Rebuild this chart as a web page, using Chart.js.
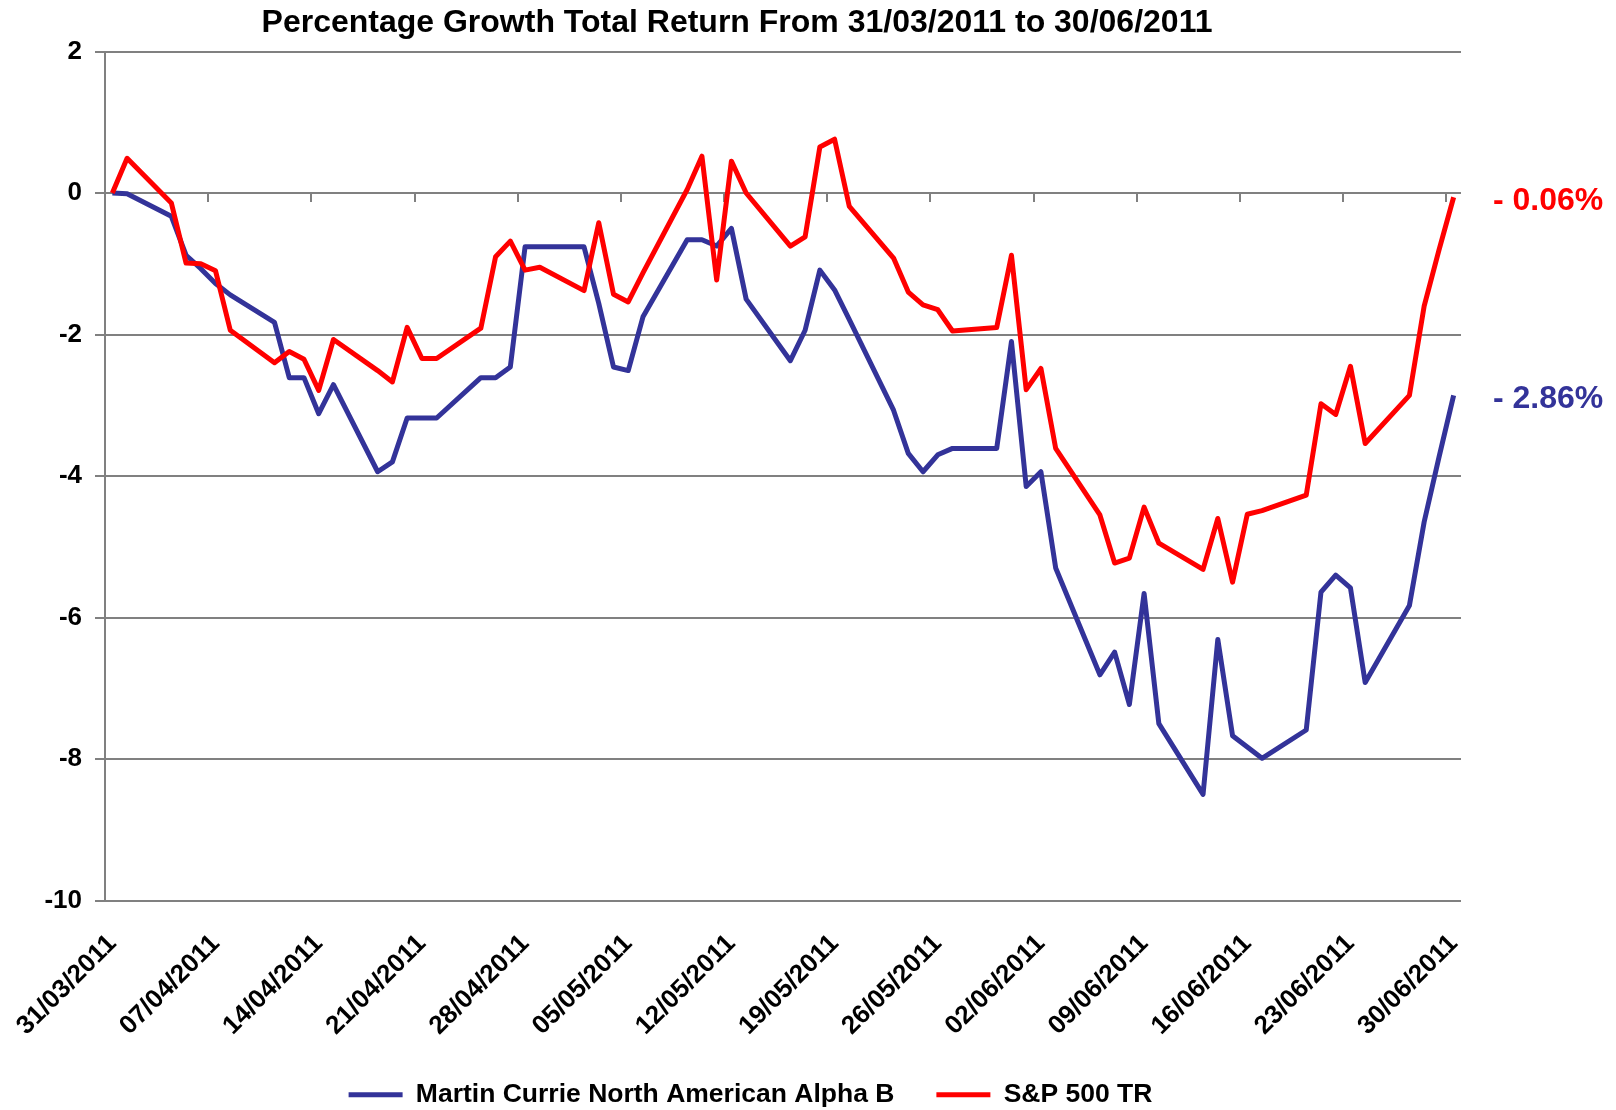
<!DOCTYPE html>
<html>
<head>
<meta charset="utf-8">
<title>Percentage Growth Total Return</title>
<script src="https://cdn.jsdelivr.net/npm/chart.js@4.4.1/dist/chart.umd.min.js"></script>
<style>
  html, body { margin: 0; padding: 0; background: #fff; }
</style>
</head>
<body>
<canvas id="growth" width="1616" height="1110"></canvas>
<script>
// trading days and % growth
const tradingDays = [
  '31/03/2011', '01/04/2011',
  '04/04/2011', '05/04/2011', '06/04/2011', '07/04/2011', '08/04/2011',
  '11/04/2011', '12/04/2011', '13/04/2011', '14/04/2011', '15/04/2011',
  '18/04/2011', '19/04/2011', '20/04/2011', '21/04/2011', '22/04/2011',
  '25/04/2011', '26/04/2011', '27/04/2011', '28/04/2011', '29/04/2011',
  '02/05/2011', '03/05/2011', '04/05/2011', '05/05/2011', '06/05/2011',
  '09/05/2011', '10/05/2011', '11/05/2011', '12/05/2011', '13/05/2011',
  '16/05/2011', '17/05/2011', '18/05/2011', '19/05/2011', '20/05/2011',
  '23/05/2011', '24/05/2011', '25/05/2011', '26/05/2011', '27/05/2011',
  '30/05/2011', '31/05/2011', '01/06/2011', '02/06/2011', '03/06/2011',
  '06/06/2011', '07/06/2011', '08/06/2011', '09/06/2011', '10/06/2011',
  '13/06/2011', '14/06/2011', '15/06/2011', '16/06/2011', '17/06/2011',
  '20/06/2011', '21/06/2011', '22/06/2011', '23/06/2011', '24/06/2011',
  '27/06/2011', '28/06/2011', '29/06/2011', '30/06/2011'
];

const martinCurrie = [
  0.00, -0.01,
  -0.33, -0.88, -1.07, -1.28, -1.44,
  -1.83, -2.61, -2.61, -3.12, -2.71,
  -3.94, -3.80, -3.18, -3.18, -3.18,
  -2.61, -2.61, -2.46, -0.76, -0.76,
  -0.76, -1.56, -2.46, -2.51, -1.75,
  -0.66, -0.66, -0.75, -0.50, -1.50,
  -2.37, -1.94, -1.09, -1.37, -1.79,
  -3.07, -3.68, -3.94, -3.70, -3.61,
  -3.61, -2.10, -4.15, -3.94, -5.30,
  -6.81, -6.49, -7.23, -5.66, -7.50,
  -8.50, -6.31, -7.67, -7.83, -7.99,
  -7.59, -5.64, -5.40, -5.58, -6.92,
  -5.83, -4.65, -3.74, -2.86
];

const sp500 = [
  0.00, 0.49,
  -0.14, -0.99, -1.00, -1.10, -1.94,
  -2.40, -2.24, -2.35, -2.79, -2.07,
  -2.51, -2.67, -1.90, -2.34, -2.34,
  -1.91, -0.90, -0.68, -1.09, -1.05,
  -1.38, -0.42, -1.43, -1.54, -1.13,
  0.05, 0.52, -1.23, 0.45, 0.00,
  -0.75, -0.62, 0.65, 0.76, -0.19,
  -0.92, -1.40, -1.58, -1.65, -1.95,
  -1.90, -0.88, -2.78, -2.48, -3.61,
  -4.55, -5.23, -5.16, -4.44, -4.95,
  -5.32, -4.60, -5.50, -4.54, -4.49,
  -4.27, -2.98, -3.13, -2.45, -3.54,
  -2.86, -1.60, -0.81, -0.06
];

const tickLabels = [
  '31/03/2011', '07/04/2011', '14/04/2011', '21/04/2011', '28/04/2011',
  '05/05/2011', '12/05/2011', '19/05/2011', '26/05/2011', '02/06/2011',
  '09/06/2011', '16/06/2011', '23/06/2011', '30/06/2011'
];

const seriesNames = ['Martin Currie North American Alpha B', 'S&P 500 TR'];
const seriesColors = ['#333399', '#ff0000'];
const chartTitle = 'Percentage Growth Total Return From 31/03/2011 to 30/06/2011';

const FONT = '"Liberation Sans", Arial, sans-serif';

// calendar days since the first trading day
function dayNumber(s) {
  const p = s.split('/').map(Number);
  const q = tradingDays[0].split('/').map(Number);
  return Math.round((Date.UTC(p[2], p[1] - 1, p[0]) - Date.UTC(q[2], q[1] - 1, q[0])) / 86400000);
}

function toPoints(values) {
  return tradingDays.map(function(d, i) { return { x: dayNumber(d), y: values[i] }; });
}

const titlePlugin = {
  id: 'pageTitle',
  afterDraw(chart) {
    const ctx = chart.ctx;
    ctx.save();
    ctx.font = 'bold 32px ' + FONT;
    ctx.fillStyle = '#000';
    ctx.textAlign = 'center';
    ctx.textBaseline = 'alphabetic';
    ctx.fillText(chartTitle, 737, 32);
    ctx.restore();
  }
};

// final value written at the right end of each line
const endLabels = {
  id: 'endLabels',
  afterDatasetsDraw(chart) {
    const { ctx, chartArea, scales } = chart;
    ctx.save();
    ctx.font = 'bold 32px ' + FONT;
    ctx.textAlign = 'left';
    ctx.textBaseline = 'middle';
    chart.data.datasets.forEach(function(ds) {
      const last = ds.data[ds.data.length - 1].y;
      const text = (last < 0 ? '- ' : '+ ') + Math.abs(last).toFixed(2) + '%';
      ctx.fillStyle = ds.borderColor;
      ctx.fillText(text, chartArea.right + 32, scales.y.getPixelForValue(last) + 4);
    });
    ctx.restore();
  }
};

new Chart(document.getElementById('growth'), {
  type: 'line',
  data: {
    datasets: [
      {
        label: seriesNames[0],
        data: toPoints(martinCurrie),
        borderColor: seriesColors[0],
        backgroundColor: seriesColors[0],
        borderWidth: 5,
        pointRadius: 0,
        tension: 0,
        borderJoinStyle: 'round',
        order: 1
      },
      {
        label: seriesNames[1],
        data: toPoints(sp500),
        borderColor: seriesColors[1],
        backgroundColor: seriesColors[1],
        borderWidth: 5,
        pointRadius: 0,
        tension: 0,
        borderJoinStyle: 'round',
        order: 0
      }
    ]
  },
  options: {
    responsive: false,
    animation: false,
    layout: { padding: { left: 40, right: 155, top: 51.5, bottom: -8 } },
    plugins: {
      title: { display: false },
      tooltip: { enabled: false },
      legend: {
        position: 'bottom',
        reverse: true,
        labels: {
          usePointStyle: true,
          pointStyle: 'line',
          pointStyleWidth: 54,
          color: '#000',
          padding: 42,
          font: { family: FONT, size: 26.5, weight: 'bold' }
        }
      }
    },
    scales: {
      x: {
        type: 'linear',
        position: 'bottom',
        min: -0.5,
        max: 91.5,
        grid: { display: false },
        border: { display: false },
        afterBuildTicks(s) {
          s.ticks = tickLabels.map(function(l) { return { value: dayNumber(l) }; });
        },
        ticks: {
          autoSkip: false,
          maxRotation: 45,
          minRotation: 45,
          padding: 20,
          color: '#000',
          font: { family: FONT, size: 26, weight: 'bold' },
          callback: function(v) {
            const l = tickLabels.find(function(t) { return dayNumber(t) === v; });
            return l || '';
          }
        },
        afterFit(s) {
          s.height = 139;
          s.paddingLeft = 0;
          s.paddingRight = 0;
        }
      },
      xMarks: {
        type: 'linear',
        axis: 'x',
        position: { y: 0 },
        min: -0.5,
        max: 91.5,
        grid: { drawOnChartArea: false, drawTicks: true, tickLength: 9, color: '#808080', lineWidth: 2 },
        border: { display: false },
        ticks: { display: false },
        afterBuildTicks(s) {
          s.ticks = tickLabels.slice(1).map(function(l) { return { value: dayNumber(l) - 0.5 }; });
        }
      },
      y: {
        min: -10,
        max: 2,
        ticks: {
          stepSize: 2,
          padding: 13,
          color: '#000',
          font: { family: FONT, size: 26, weight: 'bold' }
        },
        grid: { color: '#808080', lineWidth: 2, drawTicks: true, tickLength: 10 },
        border: { color: '#808080', width: 2 },
        afterFit(s) { s.width = 65; }
      }
    }
  },
  plugins: [titlePlugin, endLabels]
});
</script>
</body>
</html>
